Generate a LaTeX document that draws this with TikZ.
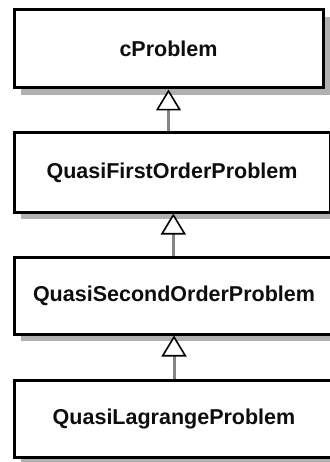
\documentclass[tikz,border=0pt]{standalone}
\usepackage{fontspec}
\setmainfont{Liberation Sans}
\usetikzlibrary{arrows.meta,shadows}
\definecolor{shadowgray}{HTML}{B0B0B0}
\definecolor{linegray}{HTML}{858585}
\tikzset{
  classbox/.style={draw=black, line width=3pt, fill=white, rectangle, inner sep=0pt,
    font=\fontsize{21.5}{25}\selectfont\bfseries, text=black!95,
    drop shadow={shadow xshift=7pt, shadow yshift=-7pt, fill=shadowgray, opacity=1}},
  inherit/.style={draw=linegray, line width=3pt,
    -{Triangle[length=21pt, width=25pt, line width=1.6pt 0, color=black, fill=white]}}
}
\begin{document}
\begin{tikzpicture}[x=1pt,y=-1pt]
\useasboundingbox (0,0) rectangle (329,462);
\node[classbox, minimum width=309pt, minimum height=78pt] (b1) at (168.5,49) {cProblem};
\node[classbox, minimum width=316pt, minimum height=79pt] (b2) at (172,172.5) {QuasiFirstOrderProblem};
\node[classbox, minimum width=320pt, minimum height=77pt] (b3) at (174,295.5) {QuasiSecondOrderProblem};
\node[classbox, minimum width=320pt, minimum height=77pt] (b4) at (174,418.5) {QuasiLagrangeProblem};
\draw[inherit] (b2.north -| b1.south) -- (b1.south);
\draw[inherit] (b3.north -| 173.3,0) -- (b2.south -| 173.3,0);
\draw[inherit] (b4.north) -- (b3.south);
\end{tikzpicture}
\end{document}
